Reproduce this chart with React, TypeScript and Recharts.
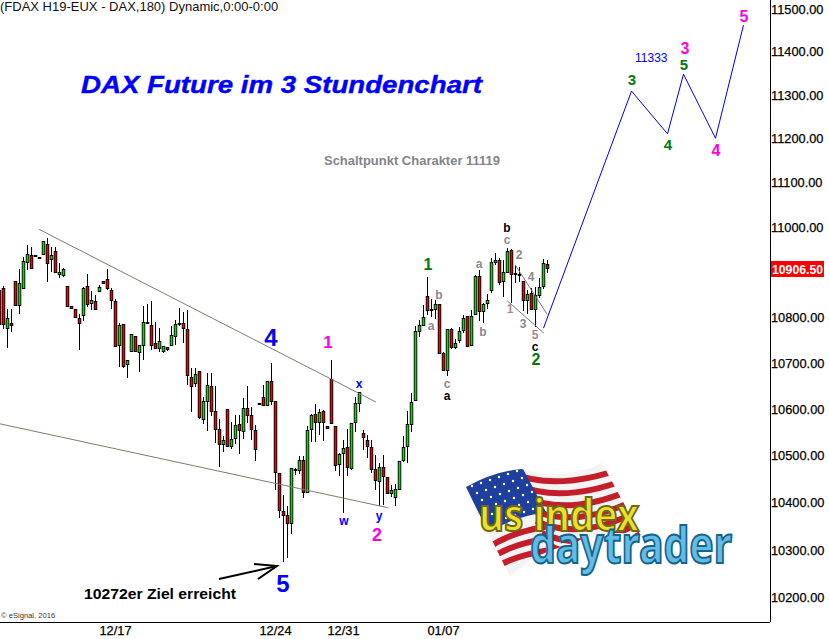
import React from 'react';
import { ComposedChart, Bar, Line, XAxis, YAxis, ReferenceLine } from 'recharts';

const opens = [
  10857, 10862, 10775, 10786, 10877, 10825, 10863, 10920, 10936, 10936,
  10931, 10939, 10961, 10926, 10945, 10894, 10892, 10866, 10822, 10815,
  10797, 10803, 10866, 10830, 10833, 10856, 10877, 10882, 10857, 10833,
  10738, 10782, 10695, 10725, 10756, 10721, 10738, 10788, 10780, 10741,
  10730, 10725, 10732, 10738, 10756, 10786, 10786, 10773, 10667, 10654,
  10680, 10577, 10616, 10647, 10593, 10555, 10522, 10597, 10518, 10535,
  10565, 10550, 10601, 10584, 10552, 10612, 10623, 10607, 10658, 10615,
  10461, 10380, 10371, 10354, 10470, 10468, 10489, 10420, 10555, 10587,
  10571, 10593, 10561, 10664, 10561, 10480, 10503, 10516, 10471, 10571,
  10612, 10546, 10532, 10516, 10469, 10443, 10474, 10453, 10418, 10410,
  10427, 10489, 10518, 10566, 10617, 10768, 10781, 10844, 10817, 10815,
  10827, 10720, 10683, 10772, 10732, 10748, 10771, 10801, 10736, 10806,
  10888, 10812, 10830, 10859, 10920, 10924, 10877, 10899, 10946, 10895,
  10894, 10877, 10835, 10852, 10815, 10848, 10866, 10915,
];
const highs = [
  10860, 10867, 10817, 10817, 10877, 10904, 10931, 10959, 10954, 10936,
  10931, 10967, 10974, 10954, 10954, 10917, 10906, 10866, 10822, 10815,
  10804, 10865, 10893, 10855, 10846, 10868, 10877, 10904, 10862, 10839,
  10786, 10784, 10704, 10762, 10756, 10738, 10822, 10828, 10833, 10788,
  10775, 10735, 10732, 10778, 10791, 10819, 10810, 10813, 10686, 10686,
  10680, 10625, 10675, 10675, 10648, 10576, 10539, 10597, 10569, 10584,
  10584, 10621, 10647, 10603, 10564, 10612, 10650, 10658, 10697, 10615,
  10461, 10413, 10390, 10472, 10472, 10496, 10496, 10562, 10587, 10608,
  10597, 10596, 10561, 10704, 10561, 10504, 10532, 10555, 10567, 10625,
  10634, 10553, 10542, 10532, 10500, 10482, 10500, 10453, 10435, 10438,
  10487, 10539, 10594, 10633, 10778, 10791, 10824, 10887, 10839, 10836,
  10828, 10722, 10773, 10775, 10751, 10777, 10802, 10801, 10813, 10891,
  10902, 10830, 10849, 10929, 10940, 10929, 10925, 10952, 10948, 10914,
  10910, 10877, 10858, 10862, 10865, 10884, 10927, 10925,
];
const lows = [
  10766, 10773, 10731, 10766, 10825, 10805, 10859, 10903, 10905, 10933,
  10928, 10939, 10876, 10899, 10896, 10883, 10887, 10823, 10819, 10799,
  10725, 10790, 10821, 10814, 10817, 10852, 10874, 10857, 10816, 10733,
  10690, 10688, 10664, 10725, 10725, 10679, 10703, 10783, 10725, 10729,
  10723, 10719, 10723, 10734, 10736, 10780, 10742, 10649, 10591, 10645,
  10577, 10567, 10550, 10582, 10525, 10473, 10504, 10518, 10512, 10521,
  10500, 10532, 10567, 10533, 10486, 10609, 10606, 10607, 10606, 10424,
  10365, 10272, 10281, 10333, 10457, 10457, 10407, 10420, 10526, 10526,
  10542, 10530, 10558, 10567, 10465, 10454, 10377, 10454, 10467, 10550,
  10590, 10511, 10493, 10461, 10426, 10391, 10394, 10417, 10410, 10392,
  10427, 10484, 10482, 10549, 10614, 10753, 10780, 10802, 10799, 10795,
  10720, 10681, 10670, 10730, 10730, 10741, 10762, 10735, 10733, 10802,
  10789, 10786, 10815, 10852, 10914, 10869, 10844, 10896, 10828, 10873,
  10876, 10810, 10804, 10813, 10777, 10839, 10861, 10896,
];
const closes = [
  10784, 10783, 10797, 10781, 10825, 10873, 10922, 10938, 10906, 10933,
  10928, 10967, 10917, 10936, 10899, 10899, 10905, 10823, 10819, 10799,
  10786, 10862, 10828, 10835, 10817, 10864, 10874, 10863, 10837, 10735,
  10780, 10692, 10704, 10762, 10725, 10738, 10788, 10786, 10736, 10730,
  10745, 10734, 10729, 10758, 10784, 10783, 10775, 10671, 10647, 10673,
  10580, 10615, 10649, 10594, 10555, 10522, 10531, 10518, 10533, 10563,
  10552, 10601, 10586, 10555, 10513, 10609, 10607, 10658, 10616, 10462,
  10382, 10371, 10354, 10472, 10468, 10489, 10420, 10552, 10584, 10569,
  10591, 10571, 10558, 10567, 10477, 10501, 10514, 10474, 10567, 10610,
  10634, 10538, 10518, 10469, 10446, 10474, 10455, 10418, 10425, 10426,
  10487, 10516, 10565, 10614, 10767, 10780, 10799, 10813, 10813, 10826,
  10720, 10683, 10772, 10733, 10741, 10767, 10797, 10735, 10801, 10888,
  10812, 10828, 10835, 10920, 10924, 10876, 10897, 10945, 10894, 10893,
  10892, 10835, 10850, 10815, 10846, 10864, 10917, 10906.5,
];

const priceTicks = [10200, 10300, 10400, 10500, 10600, 10700, 10800, 11000, 11100, 11200, 11300, 11400, 11500];
const dateTicks = [29, 69, 86, 111];
const dateLabels = ['12/17', '12/24', '12/31', '01/07'];

// projected wave count
const forecastIndex = [136, 158, 167, 171, 179, 186];
const forecastPrice = [10774, 11307, 11209, 11346, 11199, 11460];

// trend lines as [index, price, index, price]
const trendLines = [
  [9.9, 10993, 94.1, 10613, '#85796b'],
  [0.13, 10566, 97.1, 10387, '#85796b'],
  [128.9, 10914, 136.95, 10804, '#777777'],
  [126.95, 10834, 136.1, 10763, '#777777'],
];

const candles = opens.map((open, i) => ({
  i,
  open,
  close: closes[i],
  range: [lows[i], highs[i]],
}));
const forecast = forecastIndex.map((i, n) => ({ i, price: forecastPrice[n] }));

const Candle = (props: any) => {
  const { x, y, width, height, payload } = props;
  const [low, high] = payload.range;
  const h = Math.abs(height);
  // the axis is logarithmic, so place the body in log space between high and low
  const yOf = (v: number) => y + (Math.log(high / v) / Math.log(high / low)) * h;
  const cx = Math.floor(x + width / 2);
  const top = Math.round(yOf(Math.max(payload.open, payload.close)));
  const bottom = Math.max(Math.round(yOf(Math.min(payload.open, payload.close))), top + 1);
  const fill = payload.close < payload.open ? '#d80c0c' : '#18d018';
  return (
    <g>
      <rect x={cx} y={Math.round(y)} width={1} height={Math.max(Math.round(h), 1)} fill="#000" />
      <rect x={cx - 1.25} y={top} width={3.5} height={bottom - top + 1} fill="#000" />
      {bottom - top > 1 && <rect x={cx - 0.4} y={top + 1} width={1.8} height={bottom - top - 1} fill={fill} />}
    </g>
  );
};

const BLUE = '#0000ff';
const PINK = '#ff00e0';
const GREEN = '#007a10';
const GREY = '#8a8a8a';
const BLACK = '#000000';

const notes: [string, number, number, string, number][] = [
  ['4', 271, 346, BLUE, 24],
  ['5', 283, 592, BLUE, 24],
  ['1', 328, 348, PINK, 17],
  ['x', 359, 388, BLUE, 12],
  ['w', 344, 525, BLUE, 12],
  ['y', 379, 520, BLUE, 12],
  ['2', 377, 541, PINK, 18],
  ['1', 428, 270, GREEN, 16],
  ['a', 431, 330, GREY, 12],
  ['b', 439, 299, GREY, 12],
  ['c', 447, 388, GREY, 12],
  ['a', 447, 400, BLACK, 12],
  ['a', 479, 268, GREY, 12],
  ['b', 483, 336, GREY, 12],
  ['c', 507, 244, GREY, 12],
  ['b', 507, 232, BLACK, 12],
  ['2', 519, 259, GREY, 12],
  ['1', 510, 313, '#b08a8a', 12],
  ['3', 523, 328, GREY, 12],
  ['4', 531, 281, GREY, 12],
  ['5', 535, 339, '#a08a90', 12],
  ['c', 535, 351, BLACK, 12],
  ['2', 536, 365, GREEN, 16],
  ['3', 632, 85, GREEN, 15],
  ['3', 685, 54, PINK, 16],
  ['5', 684, 70, GREEN, 15],
  ['4', 668, 150, GREEN, 15],
  ['4', 716, 156, PINK, 16],
  ['5', 744, 22, PINK, 16],
];

const stripeRows = [0, 1, 2, 3, 4, 5, 6];

const Logo = () => (
  <g>
    <defs>
      <clipPath id="flagClip">
        <path d="M466 487 Q495 471 522 469 Q565 482 602 463 L641 535 Q600 528 570 545 Q535 552 510 577 Z" />
      </clipPath>
    </defs>
    <g clipPath="url(#flagClip)">
      <rect x="460" y="455" width="190" height="130" fill="#f4f4f4" />
      {stripeRows.map((n) => (
        <path
          key={n}
          d={`M${512 + n * 6} ${473 + n * 12} Q${560 + n * 5} ${494 + n * 12} ${640} ${462 + n * 12}`}
          fill="none"
          stroke="#c41e2a"
          strokeWidth={6}
        />
      ))}
      {[0, 1, 2].map((n) => (
        <path
          key={n}
          d={`M488 ${548 + n * 12} Q510 ${532 + n * 12} 550 ${526 + n * 12}`}
          fill="none"
          stroke="#c41e2a"
          strokeWidth={6}
        />
      ))}
      <path d="M462 487 Q495 468 522 467 L546 512 Q510 518 490 532 Z" fill="#1f3f9e" />
      {[0, 1, 2, 3, 4, 5].map((r) =>
        [0, 1, 2, 3, 4, 5].map((c) => (
          <circle key={`${r}-${c}`} cx={472 + c * 9 + r * 5} cy={486 - c * 3 + r * 7} r={1.2} fill="#ffffff" />
        )),
      )}
    </g>
    <g fontFamily="'Noto Sans', sans-serif" fontWeight={700}>
      <text
        x={479}
        y={531}
        fontSize={44}
        textLength={160}
        lengthAdjust="spacingAndGlyphs"
        fill="#eee02a"
        stroke="#6d6a12"
        strokeWidth={2}
      >
        us index
      </text>
      <text
        x={530}
        y={563}
        fontSize={50}
        textLength={202}
        lengthAdjust="spacingAndGlyphs"
        fill="#62bce4"
        stroke="#14648c"
        strokeWidth={2}
      >
        daytrader
      </text>
    </g>
  </g>
);

const Overlay = () => (
  <svg
    width={829}
    height={639}
    style={{ position: 'absolute', left: 0, top: 0, pointerEvents: 'none' }}
    fontFamily="'Liberation Sans', Arial, sans-serif"
  >
    <text x={0} y={11} fontSize={13} fill="#111">
      (FDAX H19-EUX - DAX,180) Dynamic,0:00-0:00
    </text>
    <text
      x={81}
      y={93}
      fontSize={24}
      fontWeight={700}
      fontStyle="italic"
      fill={BLUE}
      stroke={BLUE}
      strokeWidth={0.4}
      textLength={401}
      lengthAdjust="spacingAndGlyphs"
    >
      DAX Future im 3 Stundenchart
    </text>
    <text x={324} y={165} fontSize={13} fontWeight={700} fill="#84848c" textLength={176} lengthAdjust="spacingAndGlyphs">
      Schaltpunkt Charakter 11119
    </text>
    <text x={635} y={62} fontSize={12} fill={BLUE}>
      11333
    </text>
    {notes.map(([label, x, y, color, size], n) => (
      <text key={n} x={x} y={y} fontSize={size} fontWeight={700} fill={color} textAnchor="middle">
        {label}
      </text>
    ))}
    <text x={84} y={599} fontSize={14.5} fontWeight={700} fill="#000" textLength={152} lengthAdjust="spacingAndGlyphs">
      10272er Ziel erreicht
    </text>
    <text x={1} y={618} fontSize={7.6} fill="#333">
      © eSignal, 2016
    </text>
    <g stroke="#000" strokeWidth={2} fill="none">
      <path d="M219 579 L277 566" />
      <path d="M254 564 L277 566 L258 579" />
    </g>
    <rect x={771} y={261} width={53} height={16} fill="#ff0000" />
    <text x={772} y={274} fontSize={12.8} fill="#fff" fontWeight={700} textLength={51} lengthAdjust="spacingAndGlyphs">
      {closes[closes.length - 1].toFixed(2)}
    </text>
    <Logo />
  </svg>
);

const axisFont = {
  fontSize: 12.8,
  fill: '#000',
  stroke: '#000',
  strokeWidth: 0.25,
  fontFamily: "'Liberation Sans', Arial, sans-serif",
};

export default function App() {
  return (
    <div style={{ position: 'absolute', left: 0, top: 0, width: 829, height: 639, background: '#fff' }}>
      <ComposedChart
        width={829}
        height={639}
        data={candles}
        margin={{ top: 0, right: 0, bottom: 0, left: 0 }}
      >
        <XAxis
          dataKey="i"
          type="number"
          domain={[0.125, 192.625]}
          allowDataOverflow
          ticks={dateTicks}
          interval={0}
          height={17}
          tickLine={false}
          axisLine={{ stroke: '#000', shapeRendering: 'crispEdges' }}
          tickMargin={0}
          tick={{ ...axisFont, dy: -2 }}
          tickFormatter={(v: number) => dateLabels[dateTicks.indexOf(v)]}
        />
        <YAxis
          orientation="right"
          scale="log"
          type="number"
          domain={[10148, 11518.75]}
          allowDataOverflow
          ticks={priceTicks}
          interval={0}
          width={59}
          tickLine={false}
          axisLine={{ stroke: '#000', shapeRendering: 'crispEdges' }}
          tickMargin={0}
          tick={{ ...axisFont, textAnchor: 'start', dx: -5, dy: 1 }}
          tickFormatter={(v: number) => v.toFixed(2)}
        />
        {trendLines.map(([x1, y1, x2, y2, color], n) => (
          <ReferenceLine
            key={n}
            segment={[
              { x: x1, y: y1 },
              { x: x2, y: y2 },
            ]}
            stroke={color as string}
            strokeWidth={1}
          />
        ))}
        <Bar dataKey="range" barSize={3} shape={Candle} isAnimationActive={false} />
        <Line
          data={forecast}
          dataKey="price"
          stroke="#0000e0"
          strokeWidth={1}
          dot={false}
          activeDot={false}
          isAnimationActive={false}
        />
      </ComposedChart>
      <Overlay />
    </div>
  );
}
